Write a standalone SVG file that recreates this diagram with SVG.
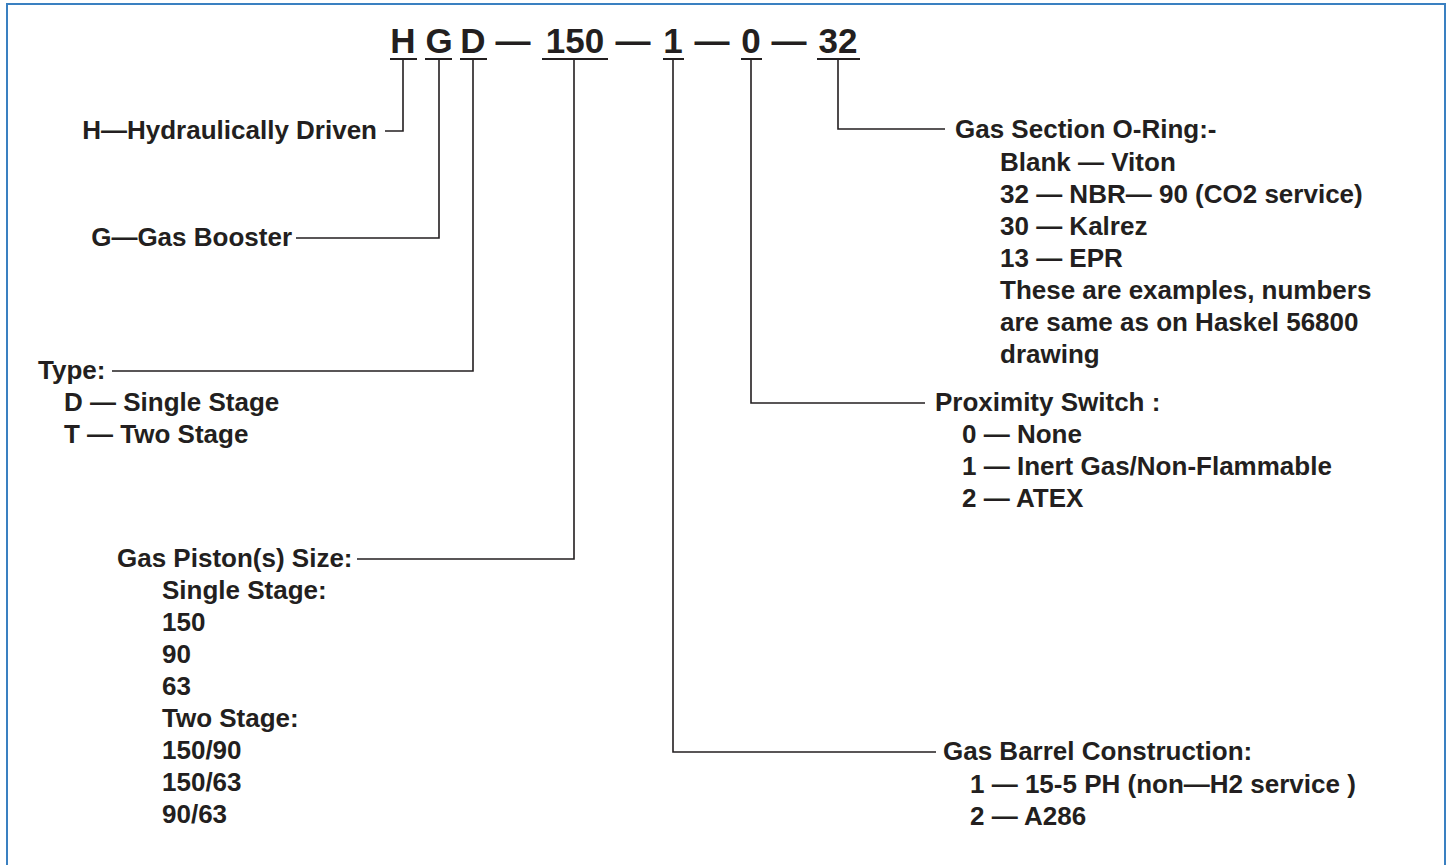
<svg xmlns="http://www.w3.org/2000/svg" width="1447" height="865" viewBox="0 0 1447 865">
<style>
text{font-family:"Liberation Sans",Arial,sans-serif;font-weight:bold;fill:#231f20;font-size:26px}
.t{font-size:35px}
.c{fill:none;stroke:#231f20;stroke-width:1.6}
.u{stroke:#231f20;stroke-width:2}
</style>
<rect x="0" y="0" width="1447" height="865" fill="#ffffff"/>
<rect x="7" y="4" width="1438" height="870" fill="none" stroke="#3a80c1" stroke-width="2"/>
<g id="title">
<text class="t" x="403" y="53" text-anchor="middle">H</text>
<text class="t" x="439" y="53" text-anchor="middle">G</text>
<text class="t" x="473" y="53" text-anchor="middle">D</text>
<text class="t" x="513" y="53" text-anchor="middle">—</text>
<text class="t" x="575" y="53" text-anchor="middle">150</text>
<text class="t" x="633" y="53" text-anchor="middle">—</text>
<text class="t" x="673" y="53" text-anchor="middle">1</text>
<text class="t" x="712" y="53" text-anchor="middle">—</text>
<text class="t" x="751" y="53" text-anchor="middle">0</text>
<text class="t" x="789" y="53" text-anchor="middle">—</text>
<text class="t" x="838" y="53" text-anchor="middle">32</text>
<line class="u" x1="390" y1="59" x2="417" y2="59"/>
<line class="u" x1="425" y1="59" x2="452" y2="59"/>
<line class="u" x1="460" y1="59" x2="487" y2="59"/>
<line class="u" x1="542" y1="59" x2="608" y2="59"/>
<line class="u" x1="663" y1="59" x2="684" y2="59"/>
<line class="u" x1="741" y1="59" x2="762" y2="59"/>
<line class="u" x1="817" y1="59" x2="860" y2="59"/>
</g>
<g id="connectors">
<path class="c" d="M403,59 V131 H385"/>
<path class="c" d="M439,59 V238 H296"/>
<path class="c" d="M473,59 V371 H112"/>
<path class="c" d="M574,59 V559 H357"/>
<path class="c" d="M673,59 V752 H936"/>
<path class="c" d="M751,59 V403 H925"/>
<path class="c" d="M838,59 V129 H945"/>
</g>
<g id="node-h">
<text x="377" y="139" text-anchor="end">H—Hydraulically Driven</text>
</g>
<g id="node-g">
<text x="292" y="246" text-anchor="end">G—Gas Booster</text>
</g>
<g id="node-type">
<text x="38" y="379">Type:</text>
<text x="64" y="411">D — Single Stage</text>
<text x="64" y="443">T — Two Stage</text>
</g>
<g id="node-piston">
<text x="117" y="567">Gas Piston(s) Size:</text>
<text x="162" y="599">Single Stage:</text>
<text x="162" y="631">150</text>
<text x="162" y="663">90</text>
<text x="162" y="695">63</text>
<text x="162" y="727">Two Stage:</text>
<text x="162" y="759">150/90</text>
<text x="162" y="791">150/63</text>
<text x="162" y="823">90/63</text>
</g>
<g id="node-oring">
<text x="955" y="138">Gas Section O-Ring:-</text>
<text x="1000" y="171">Blank — Viton</text>
<text x="1000" y="203">32 — NBR— 90 (CO2 service)</text>
<text x="1000" y="235">30 — Kalrez</text>
<text x="1000" y="267">13 — EPR</text>
<text x="1000" y="299">These are examples, numbers</text>
<text x="1000" y="331">are same as on Haskel 56800</text>
<text x="1000" y="363">drawing</text>
</g>
<g id="node-prox">
<text x="935" y="411">Proximity Switch :</text>
<text x="962" y="443">0 — None</text>
<text x="962" y="475">1 — Inert Gas/Non-Flammable</text>
<text x="962" y="507">2 — ATEX</text>
</g>
<g id="node-barrel">
<text x="943" y="760">Gas Barrel Construction:</text>
<text x="970" y="793">1 — 15-5 PH (non—H2 service )</text>
<text x="970" y="825">2 — A286</text>
</g>
</svg>
